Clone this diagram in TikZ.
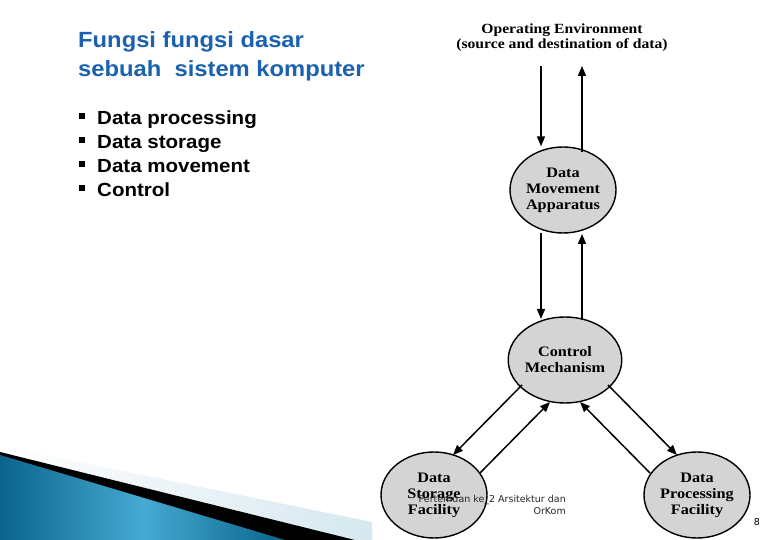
\documentclass[tikz,border=0pt]{standalone}
\usepackage{fontspec}
\setmainfont{Liberation Serif}
\setsansfont{Liberation Sans}
\newfontfamily\footfont{DejaVu Sans}
\newfontfamily\diagfont[FakeStretch=1.12]{Liberation Serif}
\newfontfamily\titlefont[FakeStretch=1.08]{Liberation Sans}
\usetikzlibrary{arrows.meta,shapes.geometric}
\definecolor{titleblue}{RGB}{26,98,176}
\definecolor{ellgray}{RGB}{212,212,212}
\definecolor{lightband}{RGB}{214,232,240}
\definecolor{darkteal}{RGB}{10,100,140}
\definecolor{midteal}{RGB}{70,170,210}
\begin{document}
\begin{tikzpicture}[x=1pt,y=-1pt,
  proc/.style={ellipse,draw=black,line width=1.4pt,fill=ellgray,minimum width=106pt,minimum height=86pt,inner sep=0pt,align=center,font=\diagfont\fontsize{14.5}{16}\selectfont\bfseries},
  flow/.style={line width=1.5pt,-{Triangle[length=10pt,width=8pt]}},
  bul/.style={anchor=base west,font=\titlefont\bfseries\fontsize{19}{22}\selectfont,inner sep=0pt}]
\useasboundingbox (0,0) rectangle (780,540);
\fill[white] (0,0) rectangle (780,540);
% bottom-left decoration
\shade[left color=white,right color=lightband] (0,446) -- (372,522) -- (372,540) -- (0,540) -- cycle;
\fill[black] (0,452) -- (355,540) -- (0,540) -- cycle;
\shade[left color=darkteal,right color=darkteal,middle color=midteal] (0,455) -- (285,540) -- (0,540) -- cycle;
% left text
\node[anchor=base west,text=titleblue,font=\titlefont\bfseries\fontsize{22}{24}\selectfont,inner sep=0pt] (t1) at (78,48) {Fungsi fungsi dasar};
\node[anchor=base west,text=titleblue,font=\titlefont\bfseries\fontsize{22}{24}\selectfont,inner sep=0pt] (t2) at (78,77) {sebuah\ \ sistem komputer};
\foreach \i/\t in {0/Data processing,1/Data storage,2/Data movement,3/Control}{
  \fill (79,{113+24*\i}) rectangle (85,{119+24*\i});
  \node[bul] (b\i) at (97,{125+24*\i}) {\t};
}
% diagram
\node[align=center,font=\diagfont\fontsize{14}{15}\selectfont\bfseries,inner sep=0pt] (env) at (562,38) {Operating Environment\\(source and destination of data)};
\node[proc] (dma) at (563,190) {Data\\Movement\\Apparatus};
\node[proc] (cm) at (565,360) {Control\\Mechanism};
\node[proc] (dsf) at (434,495) {Data\\Storage\\Facility};
\node[proc] (dpf) at (697,495) {Data\\Processing\\Facility};
\coordinate (e1) at (541,66);
\coordinate (e2) at (582,66);
\draw[flow] (e1) -- (e1 |- dma.north);
\draw[flow] (dma.north -| e2) ++(0,6) -- (e2);
\draw[flow] (541,233) -- (541,319);
\draw[flow] (582,320) -- (582,234);
\draw[flow] (522,385) -- (453,455);
\draw[flow] (480,473) -- (550,402);
\draw[flow] (608,385) -- (677,455);
\draw[flow] (650,473) -- (580,402);
% footer
\node[anchor=base east,align=right,font=\footfont\fontsize{9.5}{12}\selectfont,text=black!85,inner sep=0pt] (foot) at (566,514) {Pertemuan ke\_2 Arsitektur dan\\OrKom};
\node[anchor=base,font=\footfont\fontsize{9.5}{12}\selectfont,inner sep=0pt] (pg) at (757,525) {8};
\end{tikzpicture}
\end{document}
